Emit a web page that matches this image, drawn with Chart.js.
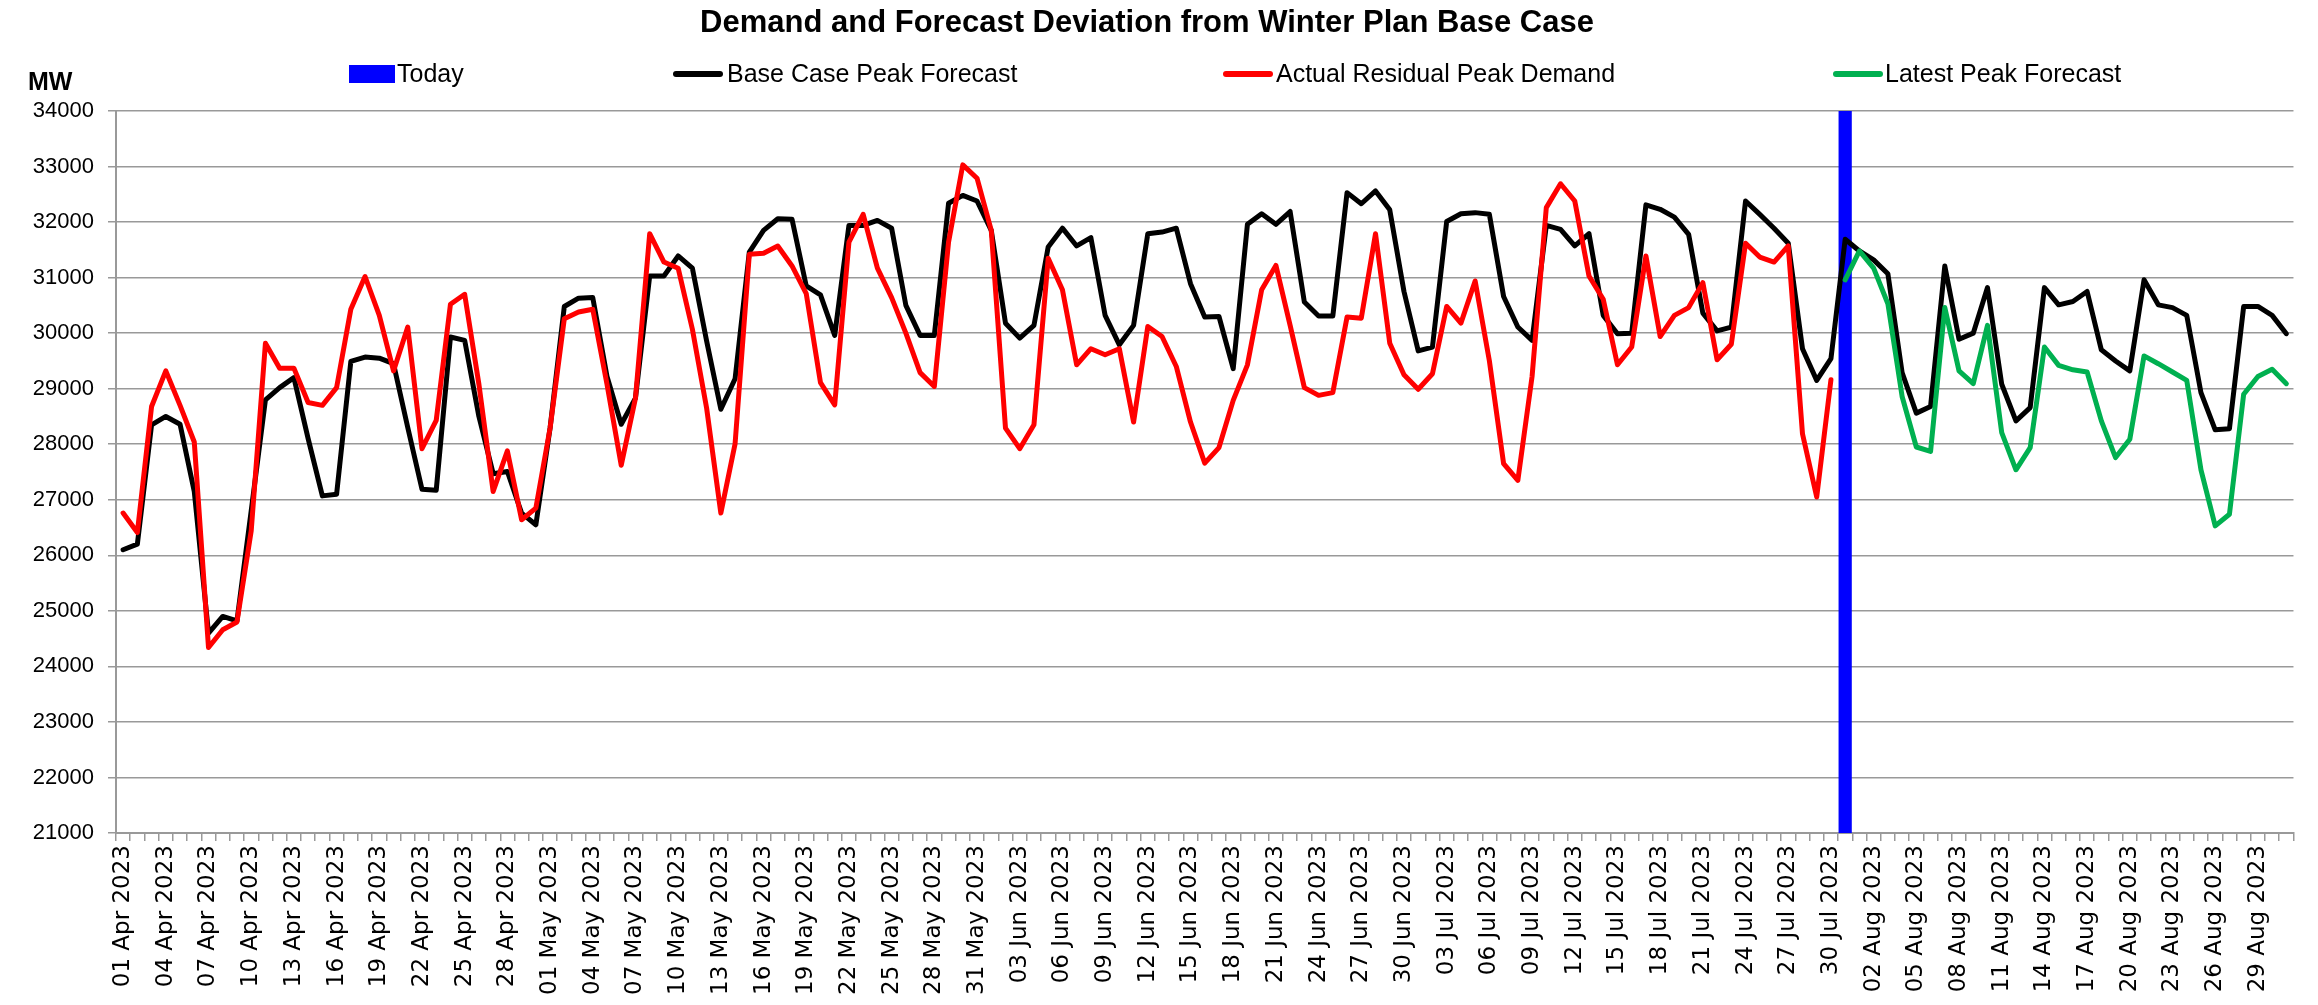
<!DOCTYPE html>
<html>
<head>
<meta charset="utf-8">
<title>Demand and Forecast Deviation from Winter Plan Base Case</title>
<script src="https://cdn.jsdelivr.net/npm/chart.js@4.4.0/dist/chart.umd.min.js"></script>
<style>
  body { margin: 0; background: #fff; }
  #wrap { position: relative; width: 2318px; height: 1005px; overflow: hidden; font-family: 'Liberation Sans', Arial, sans-serif; }
  #chart { position: absolute; left: 0; top: 0; }
  .txt { position: absolute; white-space: nowrap; color: #000; line-height: 1; }
  #title { left: 0; width: 2294px; text-align: center; top: 6px; font-size: 31px; font-weight: bold; }
  #unit { left: 28px; top: 69px; font-size: 25px; font-weight: bold; }
  .leg { top: 61px; font-size: 25px; }
  .swatch { position: absolute; }
</style>
</head>
<body>
<div id="wrap">
  <canvas id="chart" width="2318" height="1005"></canvas>
  <div class="txt" id="title">Demand and Forecast Deviation from Winter Plan Base Case</div>
  <div class="txt" id="unit">MW</div>
  <div id="legend"></div>
</div>
<script>
// categories: one point per day, 01 Apr 2023 .. 31 Aug 2023
const firstDay = Date.UTC(2023, 3, 1);
const dayCount = 153;
const monthNames = ['Jan', 'Feb', 'Mar', 'Apr', 'May', 'Jun', 'Jul', 'Aug', 'Sep', 'Oct', 'Nov', 'Dec'];
const todayIndex = 121; // 31 Jul 2023

// Base Case Peak Forecast (MW), whole period
const baseCase = [
  26100, 26200, 28350, 28500, 28360, 27150, 24600, 24900, 24820, 26800,
  28800, 29020, 29200, 28100, 27070, 27100, 29490, 29570, 29550, 29450,
  28300, 27190, 27170, 29930, 29870, 28500, 27470, 27510, 26760, 26550,
  28290, 30480, 30630, 30640, 29220, 28360, 28830, 31030, 31030, 31390,
  31170, 29860, 28630, 29180, 31460, 31850, 32060, 32050, 30850, 30690,
  29960, 31940, 31940, 32030, 31890, 30500, 29960, 29960, 32340, 32480,
  32380, 31850, 30180, 29910, 30140, 31550, 31890, 31570, 31720, 30320,
  29790, 30140, 31790, 31820, 31890, 30890, 30290, 30300, 29360, 31960,
  32150, 31960, 32190, 30560, 30310, 30310, 32530, 32330, 32560, 32220,
  30750, 29680, 29750, 32010, 32150, 32170, 32140, 30660, 30110, 29870,
  31940, 31870, 31570, 31790, 30320, 29990, 30000, 32310, 32230, 32090,
  31780, 30360, 30040, 30110, 32380, 32140, 31890, 31620, 29720, 29150,
  29540, 31690, 31480, 31320, 31070, 29290, 28560, 28680, 31210, 29890,
  30000, 30820, 29080, 28420, 28660, 30820, 30510, 30570, 30750, 29700,
  29500, 29320, 30960, 30510, 30460, 30320, 28930, 28260, 28280, 30480,
  30480, 30320, 29990
];

// Actual Residual Peak Demand (MW), 01 Apr .. 30 Jul
const actualDemand = [
  26760, 26410, 28680, 29320, 28700, 28040, 24340, 24660, 24800, 26440,
  29820, 29370, 29370, 28750, 28700, 29020, 30430, 31020, 30320, 29320,
  30110, 27920, 28430, 30520, 30700, 29080, 27150, 27880, 26640, 26850,
  28290, 30260, 30380, 30430, 29080, 27620, 28830, 31790, 31280, 31170,
  30070, 28650, 26760, 28010, 31420, 31440, 31570, 31210, 30710, 29110,
  28710, 31640, 32140, 31170, 30640, 30000, 29290, 29040, 31640, 33030,
  32790, 31850, 28290, 27920, 28350, 31350, 30780, 29430, 29720, 29610,
  29720, 28400, 30120, 29940, 29400, 28400, 27660, 27940, 28790, 29430,
  30780, 31220, 30140, 29020, 28880, 28930, 30290, 30270, 31790, 29820,
  29250, 28990, 29270, 30480, 30180, 30940, 29500, 27650, 27350, 29220,
  32260, 32690, 32380, 31030, 30610, 29430, 29750, 31390, 29940, 30320,
  30460, 30910, 29520, 29800, 31620, 31370, 31280, 31570, 28190, 27050,
  29160
];

// Latest Peak Forecast (MW), 31 Jul .. 31 Aug
const latestForecast = [
  30960, 31480, 31170, 30530, 28860, 27950, 27870, 30460, 29320, 29090,
  30140, 28210, 27540, 27940, 29750, 29420, 29340, 29300, 28420, 27760,
  28090, 29590, 29450, 29300, 29150, 27540, 26530, 26740, 28900, 29220,
  29350, 29090
];

const yMin = 21000;
const yMax = 34000;

const dayLabels = [];
for (let i = 0; i < dayCount; i++) {
  const d = new Date(firstDay + i * 86400000);
  dayLabels.push(String(d.getUTCDate()).padStart(2, '0') + ' ' + monthNames[d.getUTCMonth()] + ' ' + d.getUTCFullYear());
}

const actualData = dayLabels.map((_, i) => i < actualDemand.length ? actualDemand[i] : null);
const latestData = dayLabels.map((_, i) => i >= todayIndex ? latestForecast[i - todayIndex] : null);
// the "Today" column is full height on today, zero (axis bottom) everywhere else
const todayData = dayLabels.map((_, i) => i === todayIndex ? yMax : yMin);

const legendItems = [
  { text: 'Today', color: '#0000FF', kind: 'box', left: 349, textLeft: 397 },
  { text: 'Base Case Peak Forecast', color: '#000000', kind: 'line', left: 673, textLeft: 727 },
  { text: 'Actual Residual Peak Demand', color: '#FF0000', kind: 'line', left: 1223, textLeft: 1276 },
  { text: 'Latest Peak Forecast', color: '#00B050', kind: 'line', left: 1833, textLeft: 1885 }
];

const legend = document.getElementById('legend');
legendItems.forEach(item => {
  const sw = document.createElement('div');
  sw.className = 'swatch';
  sw.style.background = item.color;
  if (item.kind === 'box') {
    sw.style.left = item.left + 'px';
    sw.style.top = '65px';
    sw.style.width = '46px';
    sw.style.height = '18px';
  } else {
    sw.style.left = item.left + 'px';
    sw.style.top = '71px';
    sw.style.width = '50px';
    sw.style.height = '6px';
    sw.style.borderRadius = '3px';
  }
  legend.appendChild(sw);
  const t = document.createElement('div');
  t.className = 'txt leg';
  t.style.left = item.textLeft + 'px';
  t.textContent = item.text;
  legend.appendChild(t);
});

function lineSet(label, data, color, order) {
  return {
    label: label,
    data: data,
    borderColor: color,
    backgroundColor: color,
    borderWidth: 5,
    pointRadius: 0,
    pointHoverRadius: 0,
    tension: 0,
    fill: false,
    spanGaps: false,
    borderJoinStyle: 'round',
    borderCapStyle: 'round',
    order: order
  };
}

const ctx = document.getElementById('chart').getContext('2d');
const chart = new Chart(ctx, {
  type: 'line',
  data: {
    labels: dayLabels,
    datasets: [
      {
        type: 'bar',
        label: 'Today',
        data: todayData,
        backgroundColor: '#0000FF',
        borderWidth: 0,
        barPercentage: 0.93,
        categoryPercentage: 1,
        minBarLength: 3,
        order: 4
      },
      lineSet('Base Case Peak Forecast', baseCase, '#000000', 3),
      lineSet('Actual Residual Peak Demand', actualData, '#FF0000', 2),
      lineSet('Latest Peak Forecast', latestData, '#00B050', 1)
    ]
  },
  options: {
    responsive: false,
    animation: false,
    layout: { padding: { top: 111, right: 12, left: 0, bottom: 0 } },
    plugins: {
      legend: { display: false },
      title: { display: false },
      tooltip: { enabled: false }
    },
    scales: {
      x: {
        offset: true,
        grid: { offset: true, drawOnChartArea: false, drawTicks: true, tickLength: 8, color: '#999999', lineWidth: 1.5 },
        border: { color: '#999999', width: 2 },
        ticks: {
          autoSkip: false,
          minRotation: 90,
          maxRotation: 90,
          padding: 4,
          color: '#000',
          font: { family: 'DejaVu Sans', size: 23 },
          callback: function(value, index) {
            return index % 3 === 0 ? this.getLabelForValue(value) : '';
          }
        },
        afterFit: scale => { scale.height = 172; }
      },
      y: {
        min: yMin,
        max: yMax,
        ticks: {
          stepSize: 1000,
          padding: 14,
          color: '#000',
          font: { family: 'Liberation Sans', size: 22 },
          callback: value => String(value)
        },
        grid: { color: '#999999', lineWidth: 1.5, tickLength: 8 },
        border: { color: '#999999', width: 2 },
        afterFit: scale => { scale.width = 116; }
      }
    }
  }
});
</script>
</body>
</html>
